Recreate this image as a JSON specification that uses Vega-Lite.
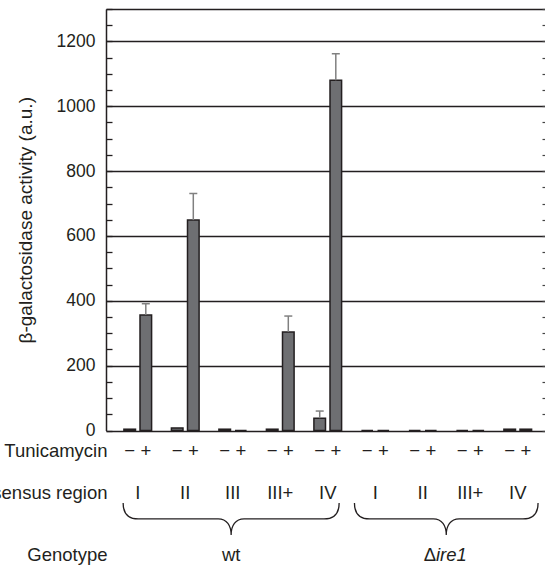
{
  "$schema": "https://vega.github.io/schema/vega-lite/v6.json",
  "width": 439,
  "height": 421.5,
  "autosize": {"type": "none"},
  "padding": {"left": 106, "top": 9, "right": 0, "bottom": 136.5},
  "background": "white",
  "config": {
    "view": {"stroke": null},
    "font": "Liberation Sans",
    "text": {"font": "Liberation Sans", "fontSize": 18, "color": "#231f20"}
  },
  "datasets": {
    "bars": [
      {"genotype": "wt", "region": "I", "group": "wt I", "tunicamycin": "−", "value": 4},
      {"genotype": "wt", "region": "I", "group": "wt I", "tunicamycin": "+", "value": 356, "upper": 391},
      {"genotype": "wt", "region": "II", "group": "wt II", "tunicamycin": "−", "value": 8},
      {"genotype": "wt", "region": "II", "group": "wt II", "tunicamycin": "+", "value": 649, "upper": 731},
      {"genotype": "wt", "region": "III", "group": "wt III", "tunicamycin": "−", "value": 4},
      {"genotype": "wt", "region": "III", "group": "wt III", "tunicamycin": "+", "value": 0},
      {"genotype": "wt", "region": "III+", "group": "wt III+", "tunicamycin": "−", "value": 4},
      {"genotype": "wt", "region": "III+", "group": "wt III+", "tunicamycin": "+", "value": 304, "upper": 353},
      {"genotype": "wt", "region": "IV", "group": "wt IV", "tunicamycin": "−", "value": 38, "upper": 60},
      {"genotype": "wt", "region": "IV", "group": "wt IV", "tunicamycin": "+", "value": 1080, "upper": 1162},
      {"genotype": "Δire1", "region": "I", "group": "Δire1 I", "tunicamycin": "−", "value": 0},
      {"genotype": "Δire1", "region": "I", "group": "Δire1 I", "tunicamycin": "+", "value": 0},
      {"genotype": "Δire1", "region": "II", "group": "Δire1 II", "tunicamycin": "−", "value": 0},
      {"genotype": "Δire1", "region": "II", "group": "Δire1 II", "tunicamycin": "+", "value": 0},
      {"genotype": "Δire1", "region": "III+", "group": "Δire1 III+", "tunicamycin": "−", "value": 0},
      {"genotype": "Δire1", "region": "III+", "group": "Δire1 III+", "tunicamycin": "+", "value": 0},
      {"genotype": "Δire1", "region": "IV", "group": "Δire1 IV", "tunicamycin": "−", "value": 4},
      {"genotype": "Δire1", "region": "IV", "group": "Δire1 IV", "tunicamycin": "+", "value": 4}
    ],
    "groups": [
      {"genotype": "wt", "region": "I", "group": "wt I"},
      {"genotype": "wt", "region": "II", "group": "wt II"},
      {"genotype": "wt", "region": "III", "group": "wt III"},
      {"genotype": "wt", "region": "III+", "group": "wt III+"},
      {"genotype": "wt", "region": "IV", "group": "wt IV"},
      {"genotype": "Δire1", "region": "I", "group": "Δire1 I"},
      {"genotype": "Δire1", "region": "II", "group": "Δire1 II"},
      {"genotype": "Δire1", "region": "III+", "group": "Δire1 III+"},
      {"genotype": "Δire1", "region": "IV", "group": "Δire1 IV"}
    ],
    "rowLabels": [
      {"row": "Tunicamycin"},
      {"row": "Consensus region"},
      {"row": "Genotype"}
    ]
  },
  "resolve": {"axis": {"y": "independent"}},
  "layer": [
    {
      "data": {"name": "bars"},
      "mark": {"type": "bar", "fill": "#6e6f72", "stroke": "#231f20", "strokeWidth": 1.5},
      "encoding": {
        "x": {
          "field": "group", "type": "nominal", "axis": null,
          "scale": {
            "domain": ["wt I", "wt II", "wt III", "wt III+", "wt IV", "Δire1 I", "Δire1 II", "Δire1 III+", "Δire1 IV"],
            "paddingInner": 0.3221, "paddingOuter": 0.2821, "align": 0.584, "round": false
          }
        },
        "xOffset": {
          "field": "tunicamycin", "type": "nominal",
          "scale": {"domain": ["−", "+"], "paddingInner": 0.28, "paddingOuter": 0.14, "round": false}
        },
        "y": {
          "field": "value", "type": "quantitative",
          "scale": {"domain": [0, 1300], "nice": false, "zero": true},
          "axis": {
            "orient": "left",
            "title": "β-galactosidase activity (a.u.)",
            "titleFont": "Liberation Sans", "titleFontSize": 19, "titleFontWeight": "normal",
            "titleColor": "#231f20", "titlePadding": 21,
            "values": [0, 50, 100, 150, 200, 250, 300, 350, 400, 450, 500, 550, 600, 650, 700, 750, 800, 850, 900, 950, 1000, 1050, 1100, 1150, 1200, 1250, 1300],
            "format": "d",
            "labelExpr": "datum.value % 200 == 0 && datum.value <= 1200 ? datum.label : ''",
            "labelFont": "Liberation Sans", "labelFontSize": 17.5, "labelColor": "#231f20",
            "labelPadding": 17, "labelOverlap": false, "labelBound": false, "labelFlush": false,
            "tickSize": -6, "tickColor": "#231f20", "tickWidth": 1.3,
            "domainColor": "#231f20", "domainWidth": 1.5,
            "grid": true, "gridColor": "#231f20", "gridWidth": 1.7,
            "gridOpacity": {"condition": {"test": "datum.value % 200 == 0 || datum.value == 1300", "value": 1}, "value": 0}
          }
        }
      }
    },
    {
      "data": {"name": "bars"},
      "transform": [{"filter": "isValid(datum.upper)"}],
      "mark": {"type": "rule", "color": "#808080", "strokeWidth": 1.5},
      "encoding": {
        "x": {"field": "group", "type": "nominal"},
        "xOffset": {"field": "tunicamycin", "type": "nominal"},
        "y": {
          "field": "value", "type": "quantitative",
          "axis": {
            "orient": "right", "title": null, "labels": false, "domain": false, "grid": false,
            "values": [0, 50, 100, 150, 200, 250, 300, 350, 400, 450, 500, 550, 600, 650, 700, 750, 800, 850, 900, 950, 1000, 1050, 1100, 1150, 1200, 1250, 1300],
            "tickSize": -3, "tickColor": "#444", "tickWidth": 1.2
          }
        },
        "y2": {"field": "upper"}
      }
    },
    {
      "data": {"name": "bars"},
      "transform": [{"filter": "isValid(datum.upper)"}],
      "mark": {"type": "tick", "color": "#808080", "thickness": 1.5, "size": 8, "opacity": 1},
      "encoding": {
        "x": {"field": "group", "type": "nominal"},
        "xOffset": {"field": "tunicamycin", "type": "nominal"},
        "y": {"field": "upper", "type": "quantitative", "axis": null}
      }
    },
    {
      "data": {"name": "bars"},
      "mark": {"type": "text", "font": "Liberation Sans", "fontSize": 18.5, "baseline": "alphabetic", "dy": 26},
      "encoding": {
        "x": {"field": "group", "type": "nominal"},
        "xOffset": {"field": "tunicamycin", "type": "nominal"},
        "y": {"datum": 0, "axis": null},
        "text": {"field": "tunicamycin"}
      }
    },
    {
      "data": {"name": "groups"},
      "mark": {"type": "text", "font": "Liberation Sans", "fontSize": 18.5, "baseline": "alphabetic", "dy": 68.5},
      "encoding": {
        "x": {"field": "group", "type": "nominal"},
        "y": {"datum": 0, "axis": null},
        "text": {"field": "region"}
      }
    },
    {
      "data": {"name": "rowLabels"},
      "transform": [{"filter": "datum.row == 'Tunicamycin'"}],
      "mark": {"type": "text", "font": "Liberation Sans", "fontSize": 18.5, "align": "right", "baseline": "alphabetic", "dx": -14.15, "dy": 26},
      "encoding": {
        "x": {"datum": "wt I", "bandPosition": 0},
        "y": {"datum": 0, "axis": null},
        "text": {"field": "row"}
      }
    },
    {
      "data": {"name": "rowLabels"},
      "transform": [{"filter": "datum.row == 'Consensus region'"}],
      "mark": {"type": "text", "font": "Liberation Sans", "fontSize": 18.5, "align": "right", "baseline": "alphabetic", "dx": -14.15, "dy": 68.5},
      "encoding": {
        "x": {"datum": "wt I", "bandPosition": 0},
        "y": {"datum": 0, "axis": null},
        "text": {"field": "row"}
      }
    },
    {
      "data": {"name": "rowLabels"},
      "transform": [{"filter": "datum.row == 'Genotype'"}],
      "mark": {"type": "text", "font": "Liberation Sans", "fontSize": 18.5, "align": "right", "baseline": "alphabetic", "dx": -14.15, "dy": 130.5},
      "encoding": {
        "x": {"datum": "wt I", "bandPosition": 0},
        "y": {"datum": 0, "axis": null},
        "text": {"field": "row"}
      }
    },
    {
      "data": {"values": [{"genotype": "wt"}]},
      "mark": {"type": "text", "font": "Liberation Sans", "fontSize": 18.5, "align": "center", "baseline": "alphabetic", "dy": 130.5},
      "encoding": {
        "x": {"datum": "wt III", "bandPosition": 0.45},
        "y": {"datum": 0, "axis": null},
        "text": {"field": "genotype"}
      }
    },
    {
      "data": {"values": [{"part": "Δ"}]},
      "mark": {"type": "text", "font": "Liberation Sans", "fontSize": 18.5, "align": "right", "baseline": "alphabetic", "dy": 130.5},
      "encoding": {
        "x": {"datum": "Δire1 II", "bandPosition": 0.9115},
        "y": {"datum": 0, "axis": null},
        "text": {"field": "part"}
      }
    },
    {
      "data": {"values": [{"part": "ire1"}]},
      "mark": {"type": "text", "font": "Liberation Sans", "fontSize": 18.5, "fontStyle": "italic", "align": "left", "baseline": "alphabetic", "dy": 130.5},
      "encoding": {
        "x": {"datum": "Δire1 II", "bandPosition": 0.9115},
        "y": {"datum": 0, "axis": null},
        "text": {"field": "part"}
      }
    },
    {
      "data": {"values": [{"genotype": "wt"}]},
      "mark": {
        "type": "point", "filled": false, "opacity": 1, "stroke": "#231f20", "strokeWidth": 1.3, "size": 46656,
        "shape": "M -1 0.671 C -1 0.76 -0.96 0.819 -0.86 0.819 L -0.12 0.819 C -0.04 0.819 0 0.88 0 0.968 C 0 0.88 0.04 0.819 0.12 0.819 L 0.86 0.819 C 0.96 0.819 1 0.76 1 0.671"
      },
      "encoding": {
        "x": {"datum": "wt III", "bandPosition": 0.45},
        "y": {"datum": 0, "axis": null}
      }
    },
    {
      "data": {"values": [{"genotype": "Δire1"}]},
      "mark": {
        "type": "point", "filled": false, "opacity": 1, "stroke": "#231f20", "strokeWidth": 1.3, "size": 46656,
        "shape": "M -0.85 0.671 C -0.85 0.76 -0.81 0.819 -0.71 0.819 L -0.12 0.819 C -0.04 0.819 0 0.88 0 0.968 C 0 0.88 0.04 0.819 0.12 0.819 L 0.71 0.819 C 0.81 0.819 0.85 0.76 0.85 0.671"
      },
      "encoding": {
        "x": {"datum": "Δire1 II", "bandPosition": 1.23},
        "y": {"datum": 0, "axis": null}
      }
    }
  ]
}
